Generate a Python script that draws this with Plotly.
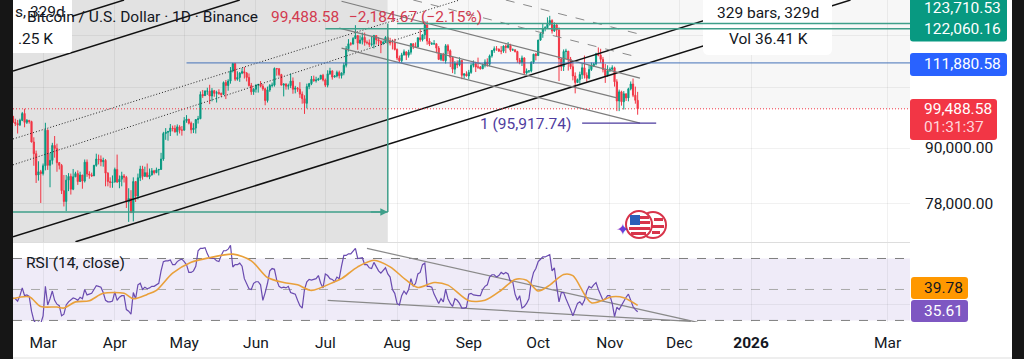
import math
import pandas as pd
import plotly.graph_objects as go

W, H = 1024, 359
FONT = "Roboto"
INK = "#131722"
GREEN = "#089981"
RED = "#f23645"
LEVEL_GREEN = "#3f9f8a"
BLUE = "#4472b8"
PURPLE = "#6a4bb0"
ORANGE = "#e9a03a"

# ---- daily prices, thousands of USD, 16 Feb 2025 .. 13 Nov 2025
first_open = 97.6
close_feb = [96.1,95.8,95.5,96.6,98.3,96.1,96.6,96.3,91.4,88.7,84.0,84.7,84.3]
high_feb = [97.7,97.0,96.7,97.0,98.7,99.5,96.9,96.6,96.5,92.5,89.4,87.0,85.1]
low_feb = [96.0,95.2,93.4,95.2,96.4,94.9,95.7,95.8,91.3,86.0,82.3,82.8,78.2]
close_mar = [86.0,94.2,86.1,87.2,90.6,89.9,86.7,86.1,80.7,78.5,82.9,83.7,81.0,83.6,84.3,82.6,84.0,82.7,86.8,84.2,84.0,83.8,86.1,87.5,87.4,86.9,87.2,84.4,82.6,82.4,82.5]
high_mar = [86.5,96.0,94.4,88.9,91.2,92.8,91.0,86.8,86.4,84.0,84.0,84.4,84.3,85.3,84.7,85.0,84.7,84.0,87.4,87.4,84.8,84.5,86.2,88.7,88.5,88.3,87.8,87.5,84.6,83.5,83.9]
low_mar = [83.9,85.0,85.1,81.4,86.3,87.8,84.7,85.2,80.0,77.5,76.6,80.6,79.9,80.8,83.6,81.9,82.5,81.1,82.4,83.6,83.2,83.6,83.8,85.8,86.3,85.9,85.8,81.6,81.6,81.3,81.3]
close_apr = [85.2,82.5,83.1,83.8,83.5,78.4,79.1,76.3,82.6,79.6,83.4,85.3,83.7,84.5,83.6,84.0,84.9,84.5,85.1,85.2,87.5,93.4,93.7,93.9,94.7,94.6,93.8,95.0,94.2,94.2]
high_apr = [85.6,88.5,83.9,84.7,84.2,83.8,81.2,80.8,83.5,82.7,84.3,86.0,86.0,85.8,86.5,85.4,85.5,85.1,85.6,85.3,88.9,93.8,94.7,94.0,95.7,95.3,95.4,95.6,95.4,95.2]
low_apr = [82.4,82.3,81.2,81.6,82.4,77.2,74.5,76.2,74.6,78.4,78.9,82.7,83.0,83.7,83.6,83.1,83.9,84.1,84.4,83.9,85.1,87.1,91.9,91.7,92.8,93.9,93.6,92.9,93.4,92.9]
close_may = [96.5,96.9,95.9,94.3,94.7,96.8,97.0,103.2,102.9,104.1,104.1,102.8,104.2,103.5,103.7,103.5,103.2,106.4,105.6,106.8,109.6,111.7,107.3,107.8,109.0,109.4,109.0,107.8,105.6,103.9,104.6]
high_may = [97.4,97.9,96.9,96.3,95.9,96.9,97.7,104.0,104.4,104.3,105.0,105.8,104.9,104.4,104.2,104.6,103.7,106.7,107.1,107.3,110.7,111.9,111.9,109.5,109.3,110.4,110.7,109.3,108.9,106.3,104.9]
low_may = [94.1,96.0,95.6,93.4,93.5,93.4,95.8,96.9,102.3,102.8,103.1,100.7,101.4,102.6,101.1,103.1,102.6,103.1,102.0,104.2,106.1,109.2,106.8,106.9,106.6,108.7,107.5,106.7,105.3,103.1,103.1]
close_jun = [105.7,105.9,105.4,104.7,101.6,104.4,105.6,105.7,110.3,110.2,108.6,105.7,106.0,105.4,105.6,106.8,104.6,104.9,104.6,103.3,102.1,100.9,105.3,106.1,107.3,106.9,107.1,107.4,108.4,107.1]
high_jun = [105.9,105.9,106.8,106.0,105.0,105.3,106.0,106.4,110.6,110.4,110.4,108.8,106.2,106.2,106.1,108.9,107.8,105.5,105.2,106.5,104.0,103.0,106.1,106.3,108.2,108.3,108.0,107.7,108.5,108.8]
low_jun = [103.7,103.7,105.1,104.2,100.4,101.1,103.9,105.1,105.3,108.3,108.1,105.7,102.7,104.5,104.5,104.9,103.4,103.5,103.9,102.3,100.8,98.2,99.6,104.6,105.7,106.6,106.4,106.9,107.2,106.7]
close_jul = [105.7,108.8,109.6,107.9,108.2,109.2,108.3,109.0,111.2,116.0,117.5,117.4,119.1,120.0,117.7,118.6,119.4,117.9,117.8,117.3,117.4,120.0,118.7,118.3,117.6,117.9,119.4,118.0,117.8,117.8,115.8]
high_jul = [107.5,109.8,110.5,109.8,108.4,109.7,109.7,109.2,111.9,116.8,118.9,118.0,119.5,123.2,119.5,120.0,120.9,120.9,118.5,118.8,119.7,120.2,120.1,119.5,118.5,118.5,119.8,119.8,119.3,118.8,119.0]
low_jul = [105.2,105.1,108.5,107.2,107.8,107.8,107.5,107.5,108.4,110.6,115.2,116.9,117.3,118.9,115.7,117.4,117.3,116.9,117.3,116.5,116.7,116.1,117.3,117.1,114.7,117.2,117.8,117.4,117.0,115.8,115.5]
close_aug = [113.3,112.5,114.2,115.1,114.1,115.0,117.5,116.6,116.5,119.3,118.7,120.2,123.3,118.3,117.4,117.5,117.5,116.2,112.9,114.3,112.5,116.9,115.4,113.5,110.1,111.8,111.3,112.6,108.4,108.8,108.2]
high_aug = [116.1,114.0,114.8,115.8,115.1,115.7,117.7,117.6,117.9,119.4,122.3,120.3,124.5,124.5,119.2,118.0,118.6,117.6,116.8,114.6,114.8,117.4,117.4,115.8,113.7,112.4,112.6,113.5,112.7,108.9,109.5]
low_aug = [112.7,112.0,111.9,114.0,112.7,113.4,114.3,115.9,116.3,116.5,118.1,118.2,118.9,117.2,116.8,117.2,117.2,114.7,112.7,112.4,112.4,111.7,114.4,110.7,109.0,108.7,110.4,110.9,107.3,107.5,108.1]
close_sep = [109.2,111.2,111.7,110.7,110.7,110.2,111.2,112.1,111.5,113.9,115.5,116.0,115.9,115.3,115.3,116.8,116.4,117.0,115.6,115.7,115.2,112.7,112.0,113.3,109.0,109.6,109.6,112.1,114.4,114.0]
high_sep = [109.9,111.8,112.6,112.2,113.4,111.0,111.7,112.9,113.2,114.3,115.6,116.7,116.8,116.1,116.8,117.0,117.3,118.0,117.5,116.1,115.8,115.4,113.3,114.0,113.5,110.3,109.8,112.3,114.5,114.8]
low_sep = [107.3,108.8,110.6,109.3,110.2,110.0,110.2,110.6,110.8,110.9,113.4,114.8,115.4,115.1,114.4,114.8,114.7,116.1,115.1,115.4,114.9,111.9,111.5,111.0,108.6,108.6,109.0,109.2,111.6,112.6]
close_oct = [118.6,120.6,122.2,122.4,123.5,124.7,121.4,123.3,121.7,113.0,110.8,115.2,115.3,113.0,110.8,108.2,106.4,107.2,108.6,110.5,108.4,107.6,110.0,111.0,111.6,114.5,114.1,112.9,110.0,108.3,109.6]
high_oct = [118.7,121.0,123.9,122.9,125.7,126.2,125.1,124.1,123.7,122.5,113.3,115.8,116.0,115.3,113.6,111.9,109.2,107.5,109.4,111.7,114.0,109.2,111.3,112.0,111.9,114.8,116.4,116.0,113.6,111.6,111.2]
low_oct = [113.9,118.4,119.3,121.3,122.2,123.1,120.6,121.1,119.8,106.8,109.6,109.6,113.0,109.7,110.1,107.0,103.5,106.3,106.1,107.4,107.5,106.6,107.3,109.6,110.7,111.2,113.8,111.9,109.2,106.3,108.0]
close_nov = [110.1,110.5,106.6,101.5,103.9,101.3,103.4,102.3,104.7,106.0,103.0,101.673,99.48858]
high_nov = [110.6,111.2,110.8,107.3,104.5,104.2,104.1,103.4,105.0,106.7,107.5,105.3,103.9]
low_nov = [109.4,109.7,105.3,98.9,98.9,100.3,99.3,101.5,101.4,104.3,102.5,100.8,98.0]

closes = close_feb+close_mar+close_apr+close_may+close_jun+close_jul+close_aug+close_sep+close_oct+close_nov
highs = high_feb+high_mar+high_apr+high_may+high_jun+high_jul+high_aug+high_sep+high_oct+high_nov
lows = low_feb+low_mar+low_apr+low_may+low_jun+low_jul+low_aug+low_sep+low_oct+low_nov
opens = [first_open] + closes[:-1]

# ---- RSI, read per day
rsi_feb = [44.5,44,42.5,46,51,46,46.5,45.5,36,30,28,29,28]
rsi_mar = [33,52,40,44,49,43,40.5,39.5,33,34,40,42,43.5,44.5,44,43,45,44,50,46.5,47,47.5,50,52.5,52,51.5,48,43,42,42,42.5]
rsi_apr = [48.5,43,45,46,46,37,36,34,48,44,53,54,50,51.5,50.5,51,52,52,53,54,62,68,68.5,68.5,69,66,66,68,69,69.6]
rsi_may = [68,66,61,61,62,65,75,76.5,76.5,77,73,70,70,70,68.5,68,72,75,75,76,78.5,64.5,66,66,67,65,57,54,50.5,50,54]
rsi_jun = [55,55,53,43,48,54,62,63.5,63,56,52,51,51.5,51,52,48,47.5,47,43,39.5,38,50,55,56.5,56,56.5,57,59,54,51]
rsi_jul = [60,59,57,56.5,55,58,57,65,72,72,73,73,75,76.5,70,70.5,70.5,66,66,64,63.5,67.5,65,62,60.5,62,64,60,58,50,47.5]
rsi_aug = [41,40,46,49,47,50,57,52,54,60,61,66,67,52,52,51.5,47,44,41,44,42,50,44,41,39,44,43,41,38,38,38.5]
rsi_sep = [47,47.5,46.5,46,46,46,50,52,53,58,59.5,59.5,58,59,61,60,61,60,55,55,47,43,46,38,39,41,44,55,61,63.5]
rsi_oct = [68,69.5,71,71,72,72.5,62,64,52,42,48,48,44,41,37,33,37,41,42,40,43,49,52,51,53,54.5,50,47,43,44,46]
rsi_nov = [46,41,32.5,38.5,37,40,42,45,47,43,39,37,35.61]
rsi = rsi_feb+rsi_mar+rsi_apr+rsi_may+rsi_jun+rsi_jul+rsi_aug+rsi_sep+rsi_oct+rsi_nov

ma_dates = ["2025-02-16","2025-02-23","2025-02-28","2025-03-07","2025-03-10","2025-03-15","2025-03-21","2025-03-27","2025-04-05","2025-04-09","2025-04-15","2025-04-19","2025-04-26","2025-05-04","2025-05-12","2025-05-22","2025-05-30","2025-06-06","2025-06-13","2025-06-19","2025-06-25","2025-07-05","2025-07-08","2025-07-15","2025-07-22","2025-07-29","2025-08-05","2025-08-10","2025-08-17","2025-08-23","2025-09-01","2025-09-08","2025-09-15","2025-09-21","2025-09-26","2025-10-01","2025-10-06","2025-10-12","2025-10-16","2025-10-24","2025-11-02","2025-11-07","2025-11-13"]
ma_vals = [44.2,45.3,39,38.7,38,42,42.7,47.5,47.5,44,46.8,49.4,60.5,67.6,70.5,72.8,68.5,57.7,54.5,53,49.4,55,57,64.6,68.9,64.6,56,51.3,54.5,52.8,42.7,43,49.5,56.5,56,49,52.8,59.7,58.9,41.4,45.3,44.7,39.78]

dates = pd.date_range(end="2025-11-13", periods=len(closes), freq="D")
assert len(closes) == len(highs) == len(lows) == len(rsi) == 271

# ---- drawing-tool levels
level_top = 123710.53
level_high = 122060.16
level_blue = 111880.58
level_last = 99488.58
level_fib = 95917.74
level_low = 76400.0
tick_prices = [78000, 90000, 105000, 120000]
tick_price_text = ["78,000.00", "90,000.00", "", ""]
month_ticks = ["2025-03-01","2025-04-01","2025-05-01","2025-06-01","2025-07-01","2025-08-01","2025-09-01","2025-10-01","2025-11-01","2025-12-01","2026-01-01","2026-03-01"]
month_text = ["Mar","Apr","May","Jun","Jul","Aug","Sep","Oct","Nov","Dec","<b>2026</b>","Mar"]

solid_lines = [
    (["2025-02-16","2025-04-05"],[120200,131400]),
    (["2025-02-16","2025-05-25"],[109600,131400]),
    (["2025-02-16","2026-01-09"],[71700,131400]),
    (["2025-03-15","2026-02-13"],[70800,131400]),
]
dotted_lines = [
    (["2025-02-16","2025-08-28"],[92100,131400]),
    (["2025-02-16","2025-08-16"],[86200,122300]),
]
grey_lines = [
    (["2025-07-08","2025-11-14"],[131000,107600]),
    (["2025-07-07","2025-11-04"],[122300,102300]),
    (["2025-07-08","2025-11-14"],[116200,95900]),
]
dashed_lines = [
    (["2025-09-17","2025-11-15"],[131400,120200]),
    (["2025-08-08","2025-11-11"],[131400,113900]),
]
rsi_lines = [
    (["2025-07-19","2025-12-09"],[76.5,28.7]),
    (["2025-07-02","2025-12-06"],[42.9,29.4]),
]

fig = go.Figure()
for xs, ys in solid_lines:
    fig.add_trace(go.Scatter(x=xs, y=ys, mode="lines", line=dict(color="#111111", width=1.5), xaxis="x", yaxis="y", hoverinfo="skip"))
for xs, ys in dotted_lines:
    fig.add_trace(go.Scatter(x=xs, y=ys, mode="lines", line=dict(color="#222222", width=1, dash="1px,2px"), xaxis="x", yaxis="y", hoverinfo="skip"))
for xs, ys in grey_lines:
    fig.add_trace(go.Scatter(x=xs, y=ys, mode="lines", line=dict(color="#7d7d7d", width=1.2), xaxis="x", yaxis="y", hoverinfo="skip"))
for xs, ys in dashed_lines:
    fig.add_trace(go.Scatter(x=xs, y=ys, mode="lines", line=dict(color="#8a8a8a", width=1, dash="dash"), xaxis="x", yaxis="y", hoverinfo="skip"))

fig.add_trace(go.Candlestick(
    x=dates,
    open=[v*1000 for v in opens], high=[v*1000 for v in highs],
    low=[v*1000 for v in lows], close=[v*1000 for v in closes],
    increasing=dict(line=dict(color=GREEN, width=1), fillcolor=GREEN),
    decreasing=dict(line=dict(color=RED, width=1), fillcolor=RED),
    whiskerwidth=0, xaxis="x", yaxis="y"))

for xs, ys in rsi_lines:
    fig.add_trace(go.Scatter(x=xs, y=ys, mode="lines", line=dict(color="#8a8a8a", width=1.2), xaxis="x2", yaxis="y2", hoverinfo="skip"))
fig.add_trace(go.Scatter(x=dates, y=rsi, mode="lines", line=dict(color=PURPLE, width=1.2), xaxis="x2", yaxis="y2"))
fig.add_trace(go.Scatter(x=ma_dates, y=ma_vals, mode="lines", line=dict(color=ORANGE, width=1.6, shape="spline", smoothing=0.8), xaxis="x2", yaxis="y2"))

def pxx(v): return v / W
def pxy(v): return 1 - v / H

def rect(x0, y0, x1, y1, fill, layer="above", line=None, kind="rect"):
    return dict(type=kind, xref="paper", yref="paper", x0=pxx(x0), x1=pxx(x1), y0=pxy(y0), y1=pxy(y1),
                fillcolor=fill, line=line or dict(width=0), layer=layer)

def pill(x0, y0, x1, y1, fill, r=3):
    X0, X1, Y0, Y1 = pxx(x0), pxx(x1), pxy(y0), pxy(y1)
    rx, ry = r / W, r / H
    path = (f"M{X0+rx},{Y0} L{X1-rx},{Y0} Q{X1},{Y0} {X1},{Y0-ry} L{X1},{Y1+ry} Q{X1},{Y1} {X1-rx},{Y1} "
            f"L{X0+rx},{Y1} Q{X0},{Y1} {X0},{Y1+ry} L{X0},{Y0-ry} Q{X0},{Y0} {X0+rx},{Y0} Z")
    return dict(type="path", xref="paper", yref="paper", path=path, fillcolor=fill, line=dict(width=0), layer="above")

PANEL_L, PANEL_R = 13, 910
X_START, X_END = "2025-02-16", "2026-03-10 17:00"
CUT = "2025-07-28"

shapes = [
    # backgrounds
    dict(type="rect", xref="x", yref="y", x0=X_START, x1=CUT, y0=70770, y1=131410, fillcolor="#e2e2e2", line=dict(width=0), layer="below"),
    dict(type="rect", xref="x", yref="y", x0=CUT, x1=X_END, y0=level_last, y1=131410, fillcolor="#f7f7f7", line=dict(width=0), layer="below"),
    dict(type="rect", xref="x2", yref="y2", x0=X_START, x1=X_END, y0=30, y1=70, fillcolor="#efebf8", line=dict(width=0), layer="below"),
    dict(type="line", xref="x2", yref="y2", x0=X_START, x1=X_END, y0=70, y1=70, line=dict(color="#7f7f7f", width=1, dash="dash"), layer="below"),
    dict(type="line", xref="x2", yref="y2", x0=X_START, x1=X_END, y0=50, y1=50, line=dict(color="#a9a9a9", width=1, dash="dash"), layer="below"),
    dict(type="line", xref="x2", yref="y2", x0=X_START, x1=X_END, y0=30, y1=30, line=dict(color="#7f7f7f", width=1, dash="dash"), layer="below"),
    # tooltip and top-left box
    pill(703, -6, 832, 55, "#ffffff", r=6),
    pill(8, -6, 72, 53, "#ffffff", r=4),
    # level lines
    dict(type="line", xref="x", yref="y", x0="2025-08-01", x1=X_END, y0=level_top, y1=level_top, line=dict(color=LEVEL_GREEN, width=1.5), layer="above"),
    dict(type="line", xref="x", yref="y", x0="2025-07-01", x1=X_END, y0=level_high, y1=level_high, line=dict(color=LEVEL_GREEN, width=1.5), layer="above"),
    dict(type="line", xref="x", yref="y", x0="2025-05-02", x1=X_END, y0=level_blue, y1=level_blue, line=dict(color=BLUE, width=1), layer="above"),
    dict(type="line", xref="x", yref="y", x0=X_START, x1=X_END, y0=level_last, y1=level_last, line=dict(color=RED, width=1, dash="1px,2px"), layer="above"),
    dict(type="line", xref="x", yref="y", x0=X_START, x1=CUT, y0=level_low, y1=level_low, line=dict(color=LEVEL_GREEN, width=1.5), layer="above"),
    dict(type="line", xref="x", yref="y", x0=CUT, x1=CUT, y0=level_low, y1=level_top, line=dict(color=LEVEL_GREEN, width=1.5), layer="above"),
    dict(type="line", xref="x", yref="y", x0="2025-10-20", x1="2025-11-21", y0=level_fib, y1=level_fib, line=dict(color="#4b3a9e", width=1.4), layer="above"),
    # separators
    dict(type="line", xref="paper", yref="paper", x0=pxx(PANEL_L), x1=pxx(PANEL_R), y0=pxy(242.5), y1=pxy(242.5), line=dict(color="#dddddd", width=1), layer="above"),
    dict(type="line", xref="paper", yref="paper", x0=pxx(0), x1=1, y0=pxy(358), y1=pxy(358), line=dict(color="#dddddd", width=1), layer="above"),
    # price labels
    pill(910, -5, 1007, 41.5, GREEN),
    pill(910, 53, 1007, 76, "#2962ff"),
    pill(910, 99, 997, 140, RED),
    pill(911, 277, 968, 299, "#ff9800"),
    pill(911, 300, 968, 322, "#7e57c2"),
    # flag badge
    rect(640, 212, 666, 238, "#ffffff", kind="circle", line=dict(color="#d8344a", width=2)),
    rect(654, 218, 663, 221, "#d8344a"),
    rect(652, 225, 664, 228, "#d8344a"),
    rect(652, 231, 660, 234, "#d8344a"),
    rect(626, 211, 652, 238, "#ffffff", kind="circle", line=dict(color="#d8344a", width=2)),
    rect(630, 215, 640, 225, "#2b5fb8"),
    rect(640, 216, 649, 219, "#d8344a"),
    rect(640, 221, 650, 224, "#d8344a"),
    rect(629, 227, 650, 230, "#d8344a"),
    rect(631, 232, 646, 235, "#d8344a"),
    # phone frame
    rect(0, 0, 13, H, "#161616"),
    rect(1012, 0, W, H, "#161616"),
]

def label(text, x, y, color=INK, size=15.5, anchor="left"):
    return dict(text=text, xref="paper", yref="paper", x=pxx(x), y=pxy(y), xanchor=anchor, yanchor="middle",
                showarrow=False, font=dict(family=FONT, size=size, color=color), align=anchor)

annotations = [
    label("s, 329d", 13, 12),
    label(".25 K", 16, 39),
    label("Bitcoin / U.S. Dollar · 1D · Binance", 25, 17),
    label("99,488.58", 269, 17, "#d23a4f"),
    label("−2,184.67 (−2.15%)", 347, 17, "#d23a4f"),
    label("329 bars, 329d", 768, 13, anchor="center"),
    label("Vol 36.41 K", 768, 39, anchor="center"),
    label("1 (95,917.74)", 478, 124, "#4f3c9e"),
    label("RSI (14, close)", 24, 263),
    label("123,710.53", 921.5, 8, "#ffffff"),
    label("122,060.16", 921.5, 29, "#ffffff"),
    label("111,880.58", 921.5, 64, "#ffffff"),
    label("99,488.58", 921.5, 109, "#ffffff"),
    label("01:31:37", 921.5, 127, "#ffd5da"),
    label("39.78", 922, 288, "#131722"),
    label("35.61", 922, 311, "#ffffff"),
    label("✦", 622, 229, "#6a3fd8", size=16, anchor="center"),
    dict(x="2025-07-28", y=math.log10(level_low), ax="2025-07-20", ay=math.log10(level_low),
         xref="x", yref="y", axref="x", ayref="y", text="", showarrow=True, arrowhead=2,
         arrowsize=1, arrowwidth=1.5, arrowcolor=LEVEL_GREEN),
]

GRID = "rgba(0,0,0,0.055)"
fig.update_layout(
    width=W, height=H, margin=dict(l=0, r=0, t=0, b=0), autosize=False,
    paper_bgcolor="#ffffff", plot_bgcolor="rgba(0,0,0,0)", showlegend=False,
    font=dict(family=FONT, size=15.5, color=INK),
    shapes=shapes, annotations=annotations, hovermode=False,
    xaxis=dict(domain=[pxx(PANEL_L), pxx(PANEL_R)], range=[X_START, X_END], type="date",
               rangeslider=dict(visible=False), anchor="y", showticklabels=False,
               tickvals=month_ticks, showgrid=True, gridcolor=GRID, ticks="", zeroline=False),
    yaxis=dict(domain=[pxy(242), 1], type="log", side="right", anchor="x",
               range=[math.log10(70770), math.log10(131410)],
               tickvals=tick_prices, ticktext=tick_price_text, showgrid=True, gridcolor=GRID,
               ticks="outside", ticklen=11, tickcolor="rgba(0,0,0,0)",
               tickfont=dict(family=FONT, size=15.5, color=INK), zeroline=False),
    xaxis2=dict(domain=[pxx(PANEL_L), pxx(PANEL_R)], range=[X_START, X_END], type="date", anchor="y2",
                tickvals=month_ticks, ticktext=month_text, showgrid=True, gridcolor=GRID,
                ticks="outside", ticklen=6, tickcolor="rgba(0,0,0,0)", tickangle=0,
                tickfont=dict(family=FONT, size=15.5, color=INK), zeroline=False),
    yaxis2=dict(domain=[pxy(322), pxy(243)], range=[29, 80], side="right", anchor="x2",
                tickvals=[40], showticklabels=False, showgrid=True, gridcolor=GRID, ticks="", zeroline=False),
)

fig.write_html("out.html", config=dict(displayModeBar=False),
               post_script="document.body.style.margin='0';document.body.style.overflow='hidden';")
